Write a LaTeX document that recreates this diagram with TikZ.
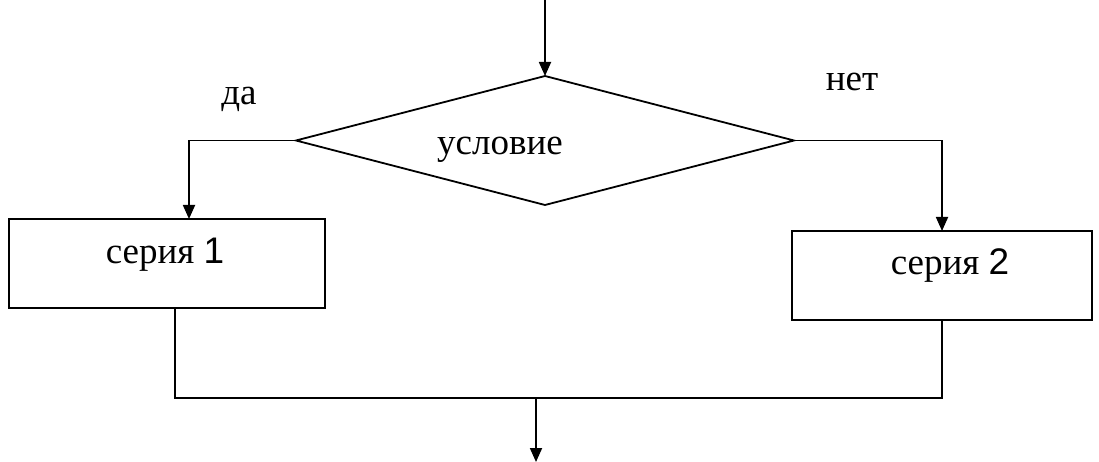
\documentclass[tikz,border=0pt]{standalone}
\usepackage{fontspec}
\setmainfont{Liberation Serif}
\newfontfamily\digitfont{Liberation Sans}
\usetikzlibrary{arrows.meta,shapes.geometric}

\tikzset{
  flow/.style={line width=1.8pt, line join=miter},
  arr/.style={flow, -{Triangle[length=14pt,width=12pt]}},
  stepbox/.style={draw, line width=1.8pt, rectangle, inner sep=0pt, outer sep=0pt},
  decision/.style={draw, line width=1.8pt, diamond, inner sep=0pt, outer sep=0pt},
  caption/.style={font=\fontsize{37}{40}\selectfont, inner sep=0pt, anchor=base},
}

\begin{document}
\begin{tikzpicture}[x=1pt,y=-1pt]
  \useasboundingbox (0,0) rectangle (1099,462);

  % decision block
  \node[decision, minimum width=498pt, minimum height=129pt] (cond) at (545,140.5) {};
  \node[caption] (condtext) at (500,155) {условие};

  % branch labels
  \node[caption] (yes) at (239,105) {да};
  \node[caption] (no) at (852,91) {нет};

  % action blocks
  \node[stepbox, minimum width=316pt, minimum height=89pt] (box1) at (167,263.5) {};
  \node[caption] (box1text) at (165,263) {серия {\digitfont 1}};
  \node[stepbox, minimum width=300pt, minimum height=89pt] (box2) at (942,275.5) {};
  \node[caption] (box2text) at (950,274) {серия {\digitfont 2}};

  % entry and exit points
  \coordinate (start) at (545,0);
  \coordinate (join) at (536,398);
  \coordinate (finish) at (536,462);

  % connectors
  \draw[arr] (start) -- (cond.north);
  \draw[arr] (cond.west) -| ([xshift=22pt]box1.north);
  \draw[arr] (cond.east) -| (box2.north);
  \draw[flow] ([xshift=8pt]box1.south) |- (join) -| (box2.south);
  \draw[arr] (join) -- (finish);
\end{tikzpicture}
\end{document}
